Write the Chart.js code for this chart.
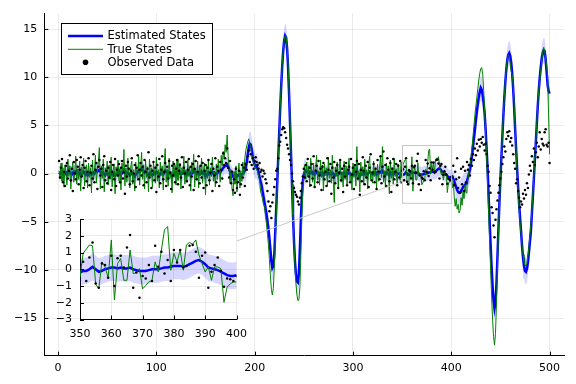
<!DOCTYPE html>
<html>
<head>
<meta charset="utf-8">
<script src="https://cdn.jsdelivr.net/npm/chart.js@4.4.1/dist/chart.umd.min.js"></script>
<style>
  html, body { margin: 0; padding: 0; background: #fff; }
  #wrap { position: relative; width: 576px; height: 384px; }
  #main { position: absolute; left: 0; top: 0; }
  #inset { position: absolute; left: 40px; top: 200px; }
</style>
</head>
<body>
<div id="wrap">
  <canvas id="main" width="576" height="384"></canvas>
  <canvas id="inset" width="215" height="150"></canvas>
</div>
<script>
// values, one per time step (t = 1..500)
const trueStates = [
  0.3, -0.5, 1.1, -0.8, 0.6, -1.4, 0.9, 0.2, -1.2, 1.5,
  -0.3, 0.8, -1.6, 0.4, 1.2, -0.9, 0.1, 1.8, -1.1, 0.5,
  -0.6, 1.3, -1.8, 0.7, -0.2, 1.6, -1.3, 0.3, 0.9, -1.5,
  1.1, -0.4, 0.6, -2.0, 1.4, -0.7, 0.2, 1.9, -1.0, 0.4,
  1.2, 2.7, -1.6, 0.8, -0.5, 1.5, -1.9, 0.6, -0.1, 1.3,
  -1.2, 0.9, -0.6, 1.7, -1.4, 0.3, 1.0, -2.1, 0.7, -0.3,
  1.4, -0.8, 0.5, -1.7, 1.1, 0.2, 2.5, -1.3, 0.6, -0.9,
  1.6, -0.2, -1.5, 0.8, 1.3, -1.1, 0.4, -1.8, 1.2, 0.1,
  -0.7, 1.8, -1.2, 0.5, 2.2, -0.6, 0.9, -1.6, 1.4, -0.4,
  0.7, -1.9, 1.5, -0.3, 0.6, -1.4, 1.1, 0.3, -1.0, 1.7,
  -0.8, 0.4, -1.5, 1.2, -0.2, 0.8, -1.7, 1.0, 2.6, -0.9,
  0.5, -1.3, 1.6, -0.5, 0.2, -2.0, 1.3, -0.4, 0.9, -1.2,
  1.5, -0.7, 0.3, 1.1, -1.6, 0.6, -0.1, 1.8, -1.1, 0.4,
  -0.9, 1.4, -0.3, 0.7, -1.8, 1.2, 0.1, 2.0, -1.4, 0.5,
  -0.6, 1.3, -1.5, 0.8, -0.2, 1.6, -1.0, 0.3, 1.1, -2.2,
  0.9, -0.5, 1.4, -1.2, 0.6, -0.3, 1.7, -0.8, 0.2, -1.4,
  1.0, -0.6, 1.5, 0.3, -0.9, 1.9, 0.8, 2.3, 1.5, 3.0,
  2.2, 4.0, 1.8, 0.6, -1.0, 0.4, -1.6, -2.3, 0.2, -1.1,
  0.8, -1.9, -0.4, 1.1, -1.5, 0.3, -0.8, 1.2, -0.2, 1.6,
  2.4, 2.9, 3.3, 3.6, 3.2, 2.8, 2.0, 1.5, 1.1, 0.9,
  0.6, 0.4, 0.2, -0.3, -0.6, -1.8, -2.2, -2.6, -3.2, -3.4,
  -4.4, -5.2, -6.3, -7.4, -8.9, -10.6, -12.0, -12.6, -11.9, -9.8,
  -7.0, -4.3, -1.5, 1.4, 4.2, 6.9, 9.3, 11.3, 12.8, 13.8,
  14.3, 14.2, 13.2, 11.3, 8.6, 5.5, 2.2, -1.1, -4.3, -7.2,
  -9.6, -11.4, -12.6, -13.2, -13.1, -11.8, -8.4, -4.7, -2.0, -0.4,
  0.9, -0.6, 1.2, -0.3, 0.8, -1.4, 1.6, 0.2, -0.9, 1.1,
  -1.5, 0.5, 1.9, -0.7, 0.3, -1.2, 1.4, -0.4, 0.9, -1.8,
  1.0, -0.2, 0.6, -1.3, 1.7, -0.5, 0.4, -1.0, 1.9, -0.8,
  -3.0, 0.7, -0.3, 1.2, -1.6, 0.5, 1.5, -0.9, 0.2, -1.4,
  1.3, -0.6, 0.8, -1.1, 0.4, 1.6, -0.8, 0.1, -1.7, 1.1,
  -0.4, 0.9, -1.3, 2.8, -0.7, 0.3, -1.9, 1.2, -0.2, 0.7,
  -1.2, 1.5, -0.5, 0.4, -1.6, 0.9, 1.8, -0.6, 0.2, -1.0,
  1.3, -0.3, 0.6, -1.5, 1.0, -0.8, 0.5, 1.7, -0.4, 2.8,
  -0.9, 0.3, -1.4, 1.1, -0.2, 0.8, -2.1, 1.4, -0.5, 0.6,
  -1.1, 1.6, -0.3, 0.5, -1.3, 1.0, 0.2, -0.7, 1.2, -0.46,
  0.95, 1.2, 1.45, 1.4, -0.87, -1.17, 0.44, 0.14, -0.5, 1.75,
  -1.83, 0.34, 0.64, -0.66, -0.66, 1.15, -0.26, -0.2, 0.04, -1.17,
  -0.97, -0.76, -0.66, 0.44, -0.16, 1.15, 2.35, 2.55, -0.06, 0.95,
  0.44, 1.15, -0.06, 1.45, 1.6, 1.5, 1.75, 0.85, 0.34, -0.16,
  0.14, -0.66, 0.14, 0.14, 0.04, -1.97, -1.07, -0.87, -0.76, -0.76,
  -1.5, -0.6, -2.4, -3.4, -2.6, -3.7, -3.2, -4.1, -3.8, -2.5,
  -3.3, -1.8, -2.6, -1.2, -2.0, -0.8, -0.6, 0.3, 0.9, 1.6,
  2.6, 3.7, 4.9, 6.0, 7.0, 7.9, 8.8, 9.7, 10.4, 10.9,
  11.0, 10.3, 8.6, 6.4, 4.0, 1.5, -1.2, -4.0, -7.0, -9.8,
  -12.5, -15.0, -16.9, -17.8, -16.6, -13.5, -9.6, -6.1, -3.3, -0.8,
  1.6, 3.9, 6.1, 8.0, 9.6, 10.9, 11.8, 12.3, 12.2, 11.4,
  10.6, 10.3, 9.2, 7.1, 4.8, 2.4, 0.1, -1.9, -3.6, -5.1,
  -6.2, -7.4, -8.4, -9.1, -9.5, -9.6, -9.3, -8.6, -7.6, -6.4,
  -5.3, -3.9, -2.2, -0.4, 1.5, 3.4, 5.3, 7.2, 8.7, 9.6,
  10.6, 11.7, 12.6, 13.1, 12.8, 11.9, 11.2, 10.1, 6.2, 2.0
];

const estimatedStates = [
  0.1, 0.0, 0.2, 0.1, -0.1, -0.2, 0.0, 0.1, -0.1, 0.2,
  0.3, 0.1, 0.0, -0.1, 0.1, 0.2, 0.0, 0.2, 0.3, 0.1,
  0.0, 0.1, -0.2, -0.1, 0.0, 0.2, 0.1, -0.1, 0.0, -0.2,
  -0.1, 0.0, 0.1, -0.1, 0.0, 0.1, 0.0, 0.2, 0.3, 0.2,
  0.3, 0.4, 0.2, 0.1, 0.0, 0.1, -0.1, -0.2, 0.0, 0.1,
  -0.1, 0.0, -0.2, 0.0, -0.1, -0.2, 0.0, -0.2, -0.1, 0.0,
  0.1, 0.0, 0.1, -0.1, 0.0, 0.2, 0.4, 0.3, 0.1, 0.0,
  0.1, 0.0, -0.2, -0.1, 0.1, 0.0, -0.1, -0.3, -0.1, 0.0,
  0.1, 0.3, 0.2, 0.3, 0.5, 0.4, 0.3, 0.1, 0.2, 0.1,
  0.0, -0.2, 0.0, 0.1, 0.0, -0.2, -0.1, 0.1, 0.0, 0.2,
  0.1, 0.0, -0.2, 0.0, 0.1, 0.0, -0.1, 0.1, 0.3, 0.2,
  0.1, -0.1, 0.1, 0.0, -0.1, -0.3, -0.1, 0.0, 0.1, -0.1,
  0.1, 0.0, 0.0, 0.1, -0.1, 0.0, 0.0, 0.2, 0.0, 0.1,
  -0.1, 0.1, 0.0, 0.1, -0.2, 0.0, 0.1, 0.3, 0.1, 0.1,
  0.0, 0.1, -0.1, 0.1, 0.0, 0.2, 0.0, 0.0, 0.1, -0.3,
  -0.1, -0.1, 0.1, -0.1, 0.0, 0.0, 0.2, 0.0, 0.1, -0.1,
  0.0, 0.0, 0.2, 0.2, 0.1, 0.3, 0.4, 0.6, 0.7, 0.8,
  0.8, 0.9, 0.7, 0.5, 0.2, 0.1, -0.1, -0.3, -0.2, -0.2,
  -0.1, -0.3, -0.2, -0.1, -0.2, -0.1, -0.1, 0.0, 0.1, 0.3,
  0.6, 1.2, 2.0, 2.7, 3.1, 3.0, 2.5, 1.8, 1.3, 0.9,
  0.7, 0.8, 0.5, 0.1, -0.4, -0.8, -1.2, -1.8, -2.4, -3.0,
  -3.6, -4.2, -4.9, -5.7, -6.7, -7.9, -9.1, -9.8, -9.6, -8.4,
  -6.0, -3.5, -0.9, 1.7, 4.3, 6.8, 9.1, 11.1, 12.7, 13.8,
  14.3, 14.1, 13.0, 11.0, 8.3, 5.2, 2.0, -1.2, -4.3, -7.0,
  -9.1, -10.5, -11.2, -11.3, -10.4, -7.8, -4.8, -2.3, -0.8, -0.1,
  0.2, 0.3, 0.2, 0.1, 0.2, 0.0, 0.1, 0.2, 0.0, 0.1,
  -0.1, 0.0, 0.2, 0.1, 0.0, -0.1, 0.1, 0.0, 0.1, -0.2,
  0.0, 0.0, 0.1, -0.1, 0.1, 0.0, 0.0, -0.1, 0.1, 0.0,
  -0.3, -0.1, -0.1, 0.0, -0.1, 0.0, 0.1, 0.0, 0.0, -0.1,
  0.1, 0.0, 0.1, -0.1, 0.0, 0.2, 0.0, 0.0, -0.2, 0.0,
  -0.1, 0.0, -0.1, 0.3, 0.1, 0.0, -0.3, -0.1, -0.1, 0.0,
  -0.1, 0.1, 0.0, 0.0, -0.1, 0.1, 0.2, 0.1, 0.0, -0.1,
  0.1, 0.0, 0.1, -0.1, 0.1, 0.0, 0.1, 0.2, 0.1, 0.3,
  0.1, 0.1, -0.1, 0.1, 0.0, 0.1, -0.2, 0.1, 0.0, 0.1,
  -0.1, 0.1, 0.0, 0.1, -0.1, 0.0, 0.0, -0.1, -0.1, -0.2,
  -0.1, -0.1, 0.0, 0.15, 0.0, -0.15, -0.1, 0.0, 0.05, 0.1,
  0.1, 0.05, 0.1, 0.05, 0.05, 0.1, 0.0, -0.05, -0.1, -0.1,
  -0.1, -0.05, 0.0, 0.0, 0.0, 0.05, 0.1, 0.1, 0.15, 0.2,
  0.2, 0.2, 0.15, 0.2, 0.3, 0.4, 0.5, 0.55, 0.45, 0.3,
  0.1, 0.05, 0.0, -0.05, -0.15, -0.25, -0.35, -0.4, -0.4, -0.35,
  -0.3, -0.5, -0.8, -1.1, -1.4, -1.7, -1.9, -2.0, -2.0, -1.8,
  -1.6, -1.4, -1.3, -1.2, -1.0, -0.8, -0.4, 0.0, 0.4, 1.0,
  1.8, 2.7, 3.6, 4.5, 5.5, 6.4, 7.2, 7.9, 8.5, 8.9,
  8.7, 8.1, 7.3, 6.2, 4.5, 2.5, 0.4, -2.2, -4.9, -7.3,
  -9.6, -11.6, -13.2, -14.0, -13.4, -11.4, -8.6, -5.7, -3.0, -0.6,
  1.7, 3.9, 6.0, 7.9, 9.5, 10.8, 11.8, 12.3, 12.5, 12.2,
  11.5, 10.4, 8.8, 6.8, 4.6, 2.5, 0.5, -1.4, -3.1, -4.6,
  -6.0, -7.5, -8.7, -9.6, -10.1, -10.2, -9.9, -9.2, -8.2, -7.1,
  -6.0, -4.2, -2.4, -0.6, 1.3, 3.2, 5.1, 7.0, 8.6, 9.9,
  11.0, 11.9, 12.5, 12.8, 12.7, 11.9, 10.6, 9.2, 8.6, 8.3
];

const observedData = [
  1.3, -0.4, 0.6, 1.5, -0.9, 0.2, -1.3, 0.8, 1.1, -0.5,
  0.3, 1.9, -0.7, 0.5, -1.8, 1.2, 0.0, -0.6, 1.4, 0.7,
  -1.1, 0.4, 1.7, -0.3, 0.9, -1.5, 0.6, 1.3, -0.8, 0.2,
  1.6, -1.2, 0.1, 0.8, -0.5, 2.0, -0.9, 0.4, 1.1, -1.6,
  0.7, 1.4, -0.2, 0.5, -1.4, 0.9, 1.8, -0.7, 0.3, -1.0,
  0.6, -0.4, 1.2, -1.7, 0.2, 0.9, -0.6, 1.5, -1.3, 0.4,
  -0.2, 1.0, -0.9, 0.6, 1.3, -0.5, 0.1, -2.1, 0.8, -0.3,
  1.2, 0.5, -1.1, 0.3, 1.6, -0.8, 0.0, 0.9, -1.4, 0.6,
  1.9, -0.6, 0.4, 1.1, -0.2, 0.7, -1.2, 1.4, 0.2, -0.9,
  0.5, 2.2, -0.4, 0.8, -1.5, 0.3, 1.2, -0.7, 0.6, -1.9,
  0.9, -0.3, 1.5, -1.0, 0.4, 1.8, -0.6, 0.2, 1.1, -1.3,
  0.7, -0.5, 1.3, 0.1, -1.6, 0.8, -0.2, 1.0, -0.9, 0.5,
  1.4, -1.1, 0.3, 0.9, -0.4, 1.7, -1.4, 0.6, 0.0, 1.2,
  -0.8, 0.4, 1.5, -1.2, 0.7, -0.3, 1.0, -1.7, 0.5, 1.3,
  -0.6, 0.2, 1.8, -1.0, 0.8, -0.4, 1.1, -1.5, 0.3, 0.9,
  -1.2, 0.6, 1.4, -0.7, 0.1, 1.0, -1.8, 0.5, -0.2, 1.6,
  -0.9, 0.7, 0.3, -1.3, 1.2, 0.4, -0.5, 2.1, 0.9, 1.6,
  1.1, 2.6, 0.6, -0.4, 1.3, -1.0, 0.2, -1.7, -0.6, -2.0,
  0.5, -1.5, -0.9, 0.3, -2.2, -1.1, 0.9, -0.4, 0.6, -1.3,
  1.0, 0.4, 1.8, 2.4, 1.2, 2.0, 0.9, 1.6, 0.5, 1.3,
  1.7, 1.2, 0.9, 0.5, 1.1, 0.2, 0.4, -0.3, 0.3, 0.0,
  -0.6, -1.0, -1.8, -2.9, -3.9, -3.4, -4.6, -3.0, -2.2, -1.4,
  -0.6, 0.3, 0.5, 1.6, 2.9, 3.3, 4.0, 4.6, 4.8, 4.7,
  4.3, 3.7, 3.0, 2.6, 2.0, 1.4, 0.9, 0.0, -0.8, -1.5,
  -1.9, -2.2, -2.4, -2.9, -3.2, -2.5, -1.8, -1.0, -0.3, 0.5,
  -0.4, 0.9, -0.8, 1.5, -0.3, 0.6, -1.2, 1.0, -0.5, 1.8,
  -1.4, 0.3, 0.8, -0.9, 1.3, -0.2, 0.5, -1.7, 0.7, 1.1,
  -0.6, 0.2, -1.3, 1.6, 0.4, -0.8, 1.0, -2.1, 0.6, -0.4,
  1.2, -1.0, 0.3, 0.9, -1.5, 0.1, 1.4, -0.7, 0.5, -1.9,
  0.8, -0.3, 1.1, -1.2, 0.4, 0.7, -0.9, 1.5, -0.1, 0.6,
  -1.6, 0.9, 0.2, 1.3, -0.5, 1.0, -2.2, 0.4, -0.8, 1.7,
  0.3, -1.1, 0.8, -0.4, 1.2, -1.4, 0.6, 2.0, -0.7, 0.1,
  1.0, -0.9, 0.5, -1.6, 1.4, 0.2, -0.6, 1.8, -1.0, 0.7,
  2.3, -0.3, 0.9, -1.3, 1.6, 0.4, -0.8, 1.1, -1.9, 0.5,
  1.5, -0.6, 0.2, 1.0, -1.2, 0.8, -0.4, 1.3, -0.9, 0.3,
  0.45, -0.7, 0.7, 1.6, -0.85, -1.1, 0.35, 0.25, -0.5, 0.8,
  -1.0, 0.65, 0.8, 0.1, 1.3, 2.05, -1.1, -0.2, -1.7, -0.4,
  -0.55, 0.25, -0.7, 1.4, 0.15, 1.05, -0.25, 0.55, -0.7, 1.15,
  0.4, 1.15, 0.1, 0.2, 1.4, 1.45, 1.05, -0.5, 0.8, 1.0,
  -1.1, -0.15, 0.25, 0.7, -0.1, -1.05, -0.55, -0.6, -0.7, -0.4,
  -0.3, 0.8, -1.2, 0.2, -0.6, 1.6, -1.5, -0.4, -2.0, 0.5,
  -1.1, 0.7, -1.8, 0.3, -0.9, 1.2, 0.4, 0.9, -0.2, 1.5,
  0.8, 2.0, 1.4, 2.6, 1.9, 3.1, 2.4, 3.5, 2.8, 3.6,
  3.2, 3.8, 3.0, 2.4, 3.1, 2.0, 0.8, 0.2, -1.3, -2.0,
  -3.5, -4.1, -5.4, -6.6, -4.8, -3.7, -2.8, -2.0, -1.2, -0.5,
  0.2, 1.0, 1.7, 2.8, 2.3, 3.6, 4.3, 3.9, 4.4, 3.3,
  3.7, 2.9, 2.0, 1.1, 0.5, -1.0, -0.6, -1.8, -2.5, -3.5,
  -2.9, -3.2, -2.1, -2.6, -1.7, -2.2, -1.0, -1.5, -0.1, 0.8,
  0.3, 1.8, 1.2, 2.6, 0.9, 2.2, 3.2, 1.7, 2.8, 4.3,
  2.5, 3.6, 3.1, 2.9, 4.3, 4.6, 3.0, 2.8, 3.2, 1.1
];

// half width of the uncertainty ribbon: [first step, last step, half width]
const ribbonSegments = [[1, 189, 0.8], [190, 252, 1.3], [253, 404, 0.8], [405, 500, 1.3]];

const xTicks = [0, 100, 200, 300, 400, 500];
const yTicks = [-15, -10, -5, 0, 5, 10, 15];
const insetXTicks = [350, 360, 370, 380, 390, 400];
const insetYTicks = [-3, -2, -1, 0, 1, 2, 3];
const lensX = [350, 400];
const lensY = [-3, 3];

const INSET_LEFT = 40, INSET_TOP = 200;

Chart.defaults.font.family = "'DejaVu Sans', sans-serif";
Chart.defaults.font.size = 11;
Chart.defaults.color = "#000";

function ribbonHalf(t) {
  for (const [a, b, w] of ribbonSegments) if (t >= a && t <= b) return w;
  return 0.8;
}

const toPoints = (arr) => arr.map((v, i) => ({ x: i + 1, y: v }));
const upperBand = estimatedStates.map((v, i) => ({ x: i + 1, y: v + ribbonHalf(i + 1) }));
const lowerBand = estimatedStates.map((v, i) => ({ x: i + 1, y: v - ribbonHalf(i + 1) }));

const minus = (v) => String(v).replace("-", "\u2212");

function makeDatasets() {
  return [
    { type: "scatter", label: "Observed Data", data: toPoints(observedData), showLine: false,
      pointRadius: 1.25, pointBackgroundColor: "#000", pointBorderWidth: 0, order: 0 },
    { label: "True States", data: toPoints(trueStates), borderColor: "#008000",
      borderWidth: 1, pointRadius: 0, order: 1 },
    { label: "Estimated States", data: toPoints(estimatedStates), borderColor: "#0000ff",
      borderWidth: 2.5, pointRadius: 0, order: 2 },
    { label: "band upper", data: upperBand, borderWidth: 0, pointRadius: 0,
      fill: "+1", backgroundColor: "rgba(0,0,255,0.16)", order: 3 },
    { label: "band lower", data: lowerBand, borderWidth: 0, pointRadius: 0,
      fill: false, order: 4 },
  ];
}

// Plots-style ticks pointing into the plot area
const innerTicks = {
  id: "innerTicks",
  afterDraw(chart) {
    const { ctx, chartArea: a, scales } = chart;
    ctx.save();
    ctx.strokeStyle = "#000";
    ctx.lineWidth = 1;
    ctx.beginPath();
    scales.x.ticks.forEach((t) => {
      const px = Math.round(scales.x.getPixelForValue(t.value)) + 0.5;
      ctx.moveTo(px, a.bottom);
      ctx.lineTo(px, a.bottom - 4);
    });
    scales.y.ticks.forEach((t) => {
      const py = Math.round(scales.y.getPixelForValue(t.value)) + 0.5;
      ctx.moveTo(a.left, py);
      ctx.lineTo(a.left + 4, py);
    });
    ctx.stroke();
    ctx.restore();
  },
};

function scaleOpts(ticks, min, max, fit, pad) {
  return {
    type: "linear",
    min, max,
    afterBuildTicks: (s) => { s.ticks = ticks.map((v) => ({ value: v })); },
    afterFit: fit,
    grid: { color: "rgba(0,0,0,0.08)", drawTicks: false },
    border: { color: "#000", width: 1 },
    ticks: { padding: pad, autoSkip: false, maxRotation: 0, callback: (v) => minus(v) },
  };
}

// ---- inset (zoom on 350..400) ----
const insetWhite = {
  id: "insetWhite",
  beforeDraw(chart) {
    const { ctx, chartArea: a } = chart;
    ctx.save();
    ctx.fillStyle = "#fff";
    ctx.fillRect(a.left, a.top, a.right - a.left, a.bottom - a.top);
    ctx.restore();
  },
};

const insetChart = new Chart(document.getElementById("inset"), {
  type: "line",
  data: { datasets: makeDatasets() },
  options: {
    responsive: false,
    animation: false,
    devicePixelRatio: 1,
    layout: { padding: { top: 19, right: 18.3, left: 0, bottom: 0 } },
    plugins: { legend: { display: false }, tooltip: { enabled: false } },
    scales: {
      x: scaleOpts(insetXTicks, 350, 400, (s) => { s.height = 30.5; }, 8),
      y: scaleOpts(insetYTicks, -3, 3, (s) => { s.width = 40; }, 8),
    },
  },
  plugins: [insetWhite, innerTicks],
});

// ---- main chart ----
const lensAndLegend = {
  id: "lensAndLegend",
  afterDatasetsDraw(chart) {
    const { ctx, scales: { x, y } } = chart;
    const bx0 = x.getPixelForValue(lensX[0]), bx1 = x.getPixelForValue(lensX[1]);
    const by0 = y.getPixelForValue(lensY[1]), by1 = y.getPixelForValue(lensY[0]);
    ctx.save();
    ctx.strokeStyle = "#c8c8c8";
    ctx.lineWidth = 1;
    ctx.strokeRect(Math.round(bx0) + 0.5, Math.round(by0) + 0.5, bx1 - bx0, by1 - by0);
    const ia = insetChart.chartArea;
    ctx.beginPath();
    ctx.moveTo(INSET_LEFT + ia.right, INSET_TOP + ia.top + 0.22 * (ia.bottom - ia.top));
    ctx.lineTo(bx0, by0 + 0.64 * (by1 - by0));
    ctx.stroke();
    ctx.restore();
  },
  afterDraw(chart) {
    const { ctx } = chart;
    ctx.save();
    ctx.fillStyle = "#fff";
    ctx.fillRect(61.5, 23.5, 151, 51);
    ctx.strokeStyle = "#000";
    ctx.lineWidth = 1;
    ctx.strokeRect(61.5, 23.5, 151, 51);
    const rows = [36, 49.3, 62.3];
    ctx.lineWidth = 2.5;
    ctx.strokeStyle = "#0000ff";
    ctx.beginPath(); ctx.moveTo(68, rows[0]); ctx.lineTo(103, rows[0]); ctx.stroke();
    ctx.lineWidth = 1;
    ctx.strokeStyle = "#008000";
    ctx.beginPath(); ctx.moveTo(68, rows[1]); ctx.lineTo(103, rows[1]); ctx.stroke();
    ctx.fillStyle = "#000";
    ctx.beginPath(); ctx.arc(85.5, rows[2], 2.8, 0, Math.PI * 2); ctx.fill();
    ctx.font = "11.5px 'DejaVu Sans', sans-serif";
    ctx.textBaseline = "middle";
    ctx.textAlign = "left";
    const names = ["Estimated States", "True States", "Observed Data"];
    names.forEach((n, i) => ctx.fillText(n, 107.5, rows[i] + 0.5));
    ctx.restore();
  },
};

new Chart(document.getElementById("main"), {
  type: "line",
  data: { datasets: makeDatasets() },
  options: {
    responsive: false,
    animation: false,
    devicePixelRatio: 1,
    layout: { padding: { top: 10.4, right: 11.7, left: 0, bottom: 0 } },
    plugins: { legend: { display: false }, tooltip: { enabled: false } },
    scales: {
      x: scaleOpts(xTicks, -14, 515, (s) => { s.height = 28.3; }, 6),
      y: scaleOpts(yTicks, -18.9, 16.6, (s) => { s.width = 44.3; }, 7),
    },
  },
  plugins: [innerTicks, lensAndLegend],
});
</script>
</body>
</html>
